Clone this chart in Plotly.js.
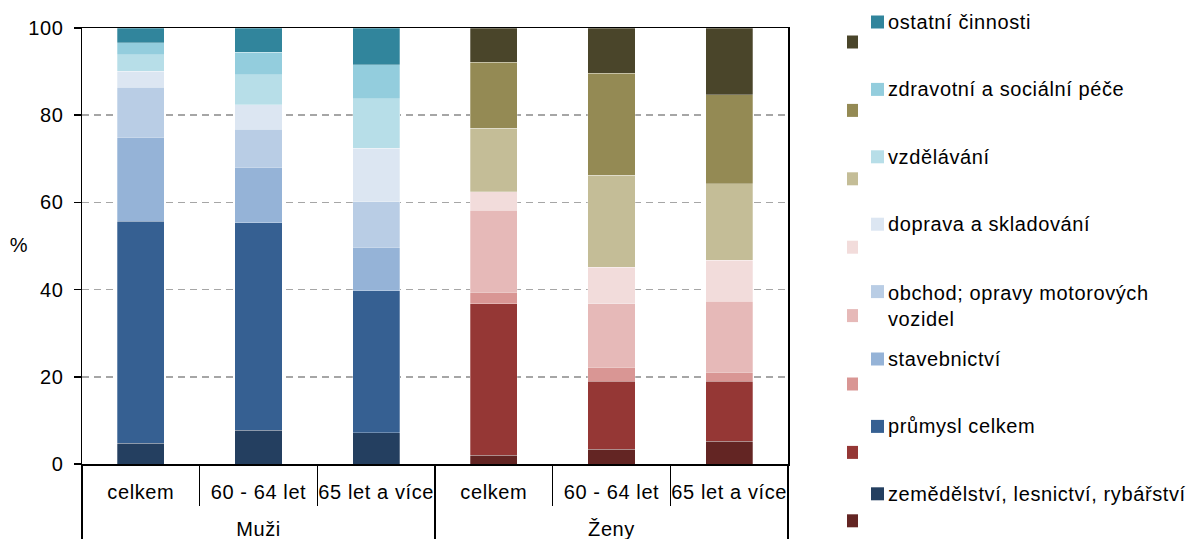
<!DOCTYPE html>
<html><head><meta charset="utf-8">
<script src="https://cdn.plot.ly/plotly-3.0.1.min.js"></script>
<style>html,body{margin:0;padding:0;background:#fff}#chart{width:1190px;height:539px}
#chart svg text{letter-spacing:0.6px}</style>
</head><body><div id="chart"></div>
<script>
// Categories
const groups = ['Muži', 'Muži', 'Muži', 'Ženy', 'Ženy', 'Ženy'];
const ageGroups = ['celkem', '60 - 64 let', '65 let a více', 'celkem', '60 - 64 let', '65 let a více'];
const sectors = [
  'zemědělství, lesnictví, rybářství',
  'průmysl celkem',
  'stavebnictví',
  'obchod; opravy motorových vozidel',
  'doprava a skladování',
  'vzdělávání',
  'zdravotní a sociální péče',
  'ostatní činnosti'
];
const legendLabels = [
  'zemědělství, lesnictví, rybářství',
  'průmysl celkem',
  'stavebnictví',
  'obchod; opravy motorových<br>vozidel',
  'doprava a skladování',
  'vzdělávání',
  'zdravotní a sociální péče',
  'ostatní činnosti'
];
// Shares (%) by sector, same order as sectors
const muziCelkem = [4.8, 50.9, 19.3, 11.4, 3.7, 3.8, 2.7, 3.4];
const muzi6064   = [7.7, 47.6, 12.8, 8.7, 5.6, 6.9, 5.1, 5.6];
const muzi65     = [7.2, 32.5, 10.0, 10.5, 12.2, 11.4, 7.8, 8.4];
const zenyCelkem = [2.0, 34.8, 2.6, 18.8, 4.3, 14.5, 15.1, 7.9];
const zeny6064   = [3.4, 15.6, 3.2, 14.6, 8.3, 21.1, 23.4, 10.4];
const zeny65     = [5.2, 13.8, 2.0, 16.3, 9.4, 17.6, 20.4, 15.3];
const yTicks = [0, 20, 40, 60, 80, 100];

const menColors = ['#243F60', '#366092', '#95B3D7', '#B9CDE5', '#DCE6F2', '#B7DEE8', '#93CDDD', '#31859C'];
const womenColors = ['#632523', '#953735', '#D99694', '#E6B9B8', '#F2DCDB', '#C4BD97', '#948A54', '#4A452A'];

// first-level labels get a tiny empty second line so the group level sits lower, as in the reference
const ageLabels = ageGroups.map(a => a + '<br><span style="font-size:2px">\u00a0</span>');

const FONT = 'Liberation Sans, Arial, sans-serif';
const traces = [];
sectors.forEach((s, j) => {
  traces.push({
    type: 'bar', name: s, showlegend: false,
    x: [groups.slice(0, 3), ageLabels.slice(0, 3)],
    y: [muziCelkem[j], muzi6064[j], muzi65[j]],
    width: 0.4,
    marker: {color: menColors[j], line: {color: 'rgba(255,255,255,0.35)', width: 0.8}}
  });
  traces.push({
    type: 'bar', name: s, showlegend: false,
    x: [groups.slice(3), ageLabels.slice(3)],
    y: [zenyCelkem[j], zeny6064[j], zeny65[j]],
    width: 0.4,
    marker: {color: womenColors[j], line: {color: 'rgba(255,255,255,0.35)', width: 0.8}}
  });
});

// Manual legend (two swatch columns, text only beside the men's swatch)
const L = 82, T = 28, PW = 706, PH = 436;
const px2x = p => (p - L) / PW;
const px2y = p => (T + PH - p) / PH;
const shapes = [];
const annotations = [];
sectors.forEach((s, j) => {
  const r = sectors.length - 1 - j;
  const ym = 22 + r * 67.4;
  const yw = 42 + r * 68.4;
  shapes.push({type: 'rect', xref: 'paper', yref: 'paper', layer: 'above',
    x0: px2x(871), x1: px2x(884), y0: px2y(ym - 6.5), y1: px2y(ym + 6.5),
    fillcolor: menColors[j], line: {width: 0}});
  shapes.push({type: 'rect', xref: 'paper', yref: 'paper', layer: 'above',
    x0: px2x(847), x1: px2x(858), y0: px2y(yw - 6.5), y1: px2y(yw + 6.5),
    fillcolor: womenColors[j], line: {width: 0}});
  const twoLine = legendLabels[j].indexOf('<br>') >= 0;
  annotations.push({xref: 'paper', yref: 'paper', x: px2x(886), y: px2y(twoLine ? ym - 12 : ym),
    xanchor: 'left', yanchor: twoLine ? 'top' : 'middle', align: 'left', showarrow: false,
    text: legendLabels[j], font: {family: FONT, size: 20, color: '#000'}});
});
annotations.push({xref: 'paper', yref: 'paper', x: px2x(19), y: px2y(245), xanchor: 'center', yanchor: 'middle',
  showarrow: false, text: '%', font: {family: FONT, size: 20, color: '#000'}});

const layout = {
  width: 1190, height: 539,
  margin: {l: L, r: 1190 - L - PW, t: T, b: 539 - T - PH, pad: 0},
  paper_bgcolor: '#fff', plot_bgcolor: '#fff',
  barmode: 'stack',
  showlegend: false,
  font: {family: FONT, size: 20, color: '#000'},
  xaxis: {
    type: 'multicategory', automargin: false,
    range: [-0.5, 5.5],
    showline: true, linecolor: '#000', linewidth: 1.5, mirror: true,
    ticks: 'outside', tickson: 'boundaries', ticklen: 40, tickcolor: '#000', tickwidth: 1.5,
    ticklabelstandoff: 9,
    showdividers: true, dividercolor: '#000', dividerwidth: 1.5,
    showgrid: false,
    tickfont: {family: FONT, size: 20, color: '#000'}
  },
  yaxis: {
    automargin: false,
    range: [0, 100], tickvals: yTicks, ticktext: yTicks.map(String),
    showline: true, linecolor: '#000', linewidth: 1.5, mirror: true,
    ticks: 'outside', ticklen: 7, tickcolor: '#000', tickwidth: 1.5,
    ticklabelstandoff: 6,
    showgrid: true, gridcolor: '#A6A6A6', gridwidth: 1.5, griddash: '7px,5px',
    zeroline: false,
    tickfont: {family: FONT, size: 20, color: '#000'}
  },
  shapes: shapes,
  annotations: annotations
};

Plotly.newPlot('chart', traces, layout, {staticPlot: true, displayModeBar: false});
</script>
</body></html>
